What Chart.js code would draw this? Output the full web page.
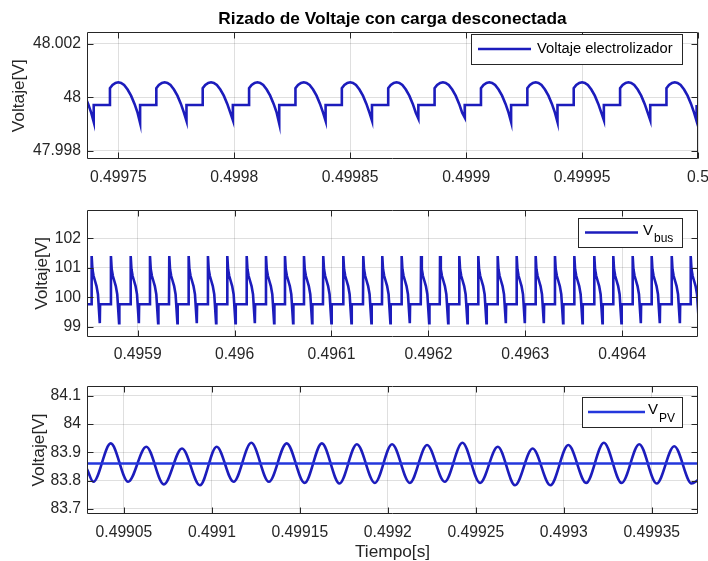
<!DOCTYPE html>
<html>
<head>
<meta charset="utf-8">
<title>Rizado de Voltaje con carga desconectada</title>
<script src="https://cdn.jsdelivr.net/npm/chart.js@4.4.1/dist/chart.umd.min.js"></script>
<style>
  html, body { margin: 0; padding: 0; background: #ffffff; }
  #fig { position: relative; width: 708px; height: 561px; overflow: hidden; background: #ffffff; }
  #fig canvas { position: absolute; left: 0; }
</style>
</head>
<body>
<div id="fig">
  <canvas id="cElec" width="708" height="190" style="top:0px;width:708px;height:190px"></canvas>
  <canvas id="cBus"  width="708" height="180" style="top:190px;width:708px;height:180px"></canvas>
  <canvas id="cPv"   width="708" height="191" style="top:370px;width:708px;height:191px"></canvas>
</div>
<script>
// ---------- Voltaje electrolizador: times are µs after elecBase seconds ----------
const elecBase = 0.4997;
const elecRangeUs = [36.5, 300];
const elecXTicks = [0.49975, 0.4998, 0.49985, 0.4999, 0.49995, 0.5];
const elecXLabels = ['0.49975', '0.4998', '0.49985', '0.4999', '0.49995', '0.5'];
const elecYRange = [47.99767, 48.00244];
const elecYTicks = [47.998, 48, 48.002];
const elecYLabels = ['47.998', '48', '48.002'];
// crest time of every ripple period and the trough reached before the reset step
const elecCrestUs = [30, 50, 70, 90, 110, 130, 150, 170, 190, 210, 230, 250, 270, 290];
const elecTroughV = [47.99907, 47.99903, 47.99911, 47.99914, 47.99901, 47.99911, 47.99912,
                     47.9992, 47.99924, 47.99907, 47.99907, 47.99914, 47.99914, 47.9991];
// one ripple period: offset from its crest (µs) and voltage; null marks the trough
const elecCycleUs = [-3.6, -3.6, -2.5, -1.2, 0, 1.2, 2.5, 4, 5.5, 7, 8.3, 9.4, 9.4];
const elecCycleV  = [47.99971, 48.00034, 48.00046, 48.00054, 48.00056, 48.00054, 48.00046,
                     48.00029, 48.00006, 47.99975, 47.99942, null, 47.99971];

// ---------- V_bus: times are µs after busBase seconds ----------
const busBase = 0.4958;
const busRangeUs = [47.7, 678.2];
const busXTicks = [0.4959, 0.496, 0.4961, 0.4962, 0.4963, 0.4964];
const busXLabels = ['0.4959', '0.496', '0.4961', '0.4962', '0.4963', '0.4964'];
const busYRange = [98.66, 102.96];
const busYTicks = [99, 100, 101, 102];
const busYLabels = ['99', '100', '101', '102'];
const busStartV = 99.76;
const busCrestUs = [52.5, 72.4, 92.8, 112.7, 132.6, 152.6, 172.5, 192.5, 212.5, 232.4, 252.0,
                    271.6, 291.5, 312.2, 332.8, 352.4, 372.4, 392.4, 412.0, 431.9, 451.5, 471.5,
                    491.1, 510.7, 530.6, 550.6, 571.2, 590.8, 610.8, 630.4, 651.1, 670.7];
// one switching spike: offset from its crest (µs) and voltage
const busCycleUs = [-0.3, 0, 0.8, 2.0, 3.5, 5.0, 6.5, 8.4, 8.7];
const busCycleV  = [99.76, 101.4, 100.95, 100.72, 100.55, 100.38, 100.1, 99.12, 99.76];

// ---------- V_PV: times are µs after pvBase seconds ----------
const pvBase = 0.499;
const pvRangeUs = [29.0, 376.3];
const pvXTicks = [0.49905, 0.4991, 0.49915, 0.4992, 0.49925, 0.4993, 0.49935];
const pvXLabels = ['0.49905', '0.4991', '0.49915', '0.4992', '0.49925', '0.4993', '0.49935'];
const pvYRange = [83.682, 84.135];
const pvYTicks = [83.7, 83.8, 83.9, 84, 84.1];
const pvYLabels = ['83.7', '83.8', '83.9', '84', '84.1'];
// turning points of the PV ripple (plus both window edges)
const pvUs = [29.0, 32.6, 42.5, 52.4, 62.7, 72.7, 83.0, 93.2, 102.7, 112.3, 122.4, 132.4, 142.5,
              152.7, 162.5, 172.5, 182.4, 192.6, 202.4, 212.5, 222.3, 232.3, 242.4, 252.4, 262.5,
              272.3, 282.3, 292.4, 302.6, 312.7, 322.8, 332.9, 342.9, 352.8, 362.8, 372.7, 376.3];
const pvV = [83.841, 83.796, 83.932, 83.796, 83.920, 83.787, 83.914, 83.784, 83.920, 83.796,
             83.934, 83.796, 83.932, 83.792, 83.932, 83.790, 83.929, 83.792, 83.929, 83.792,
             83.926, 83.796, 83.934, 83.792, 83.920, 83.784, 83.914, 83.784, 83.926, 83.792,
             83.934, 83.792, 83.929, 83.790, 83.922, 83.790, 83.802];
const pvMeanV = 83.861;

// ---------- styling ----------
const FONT = '"Liberation Sans", Arial, Helvetica, sans-serif';
const AXIS_INK = '#262626';
const GRID_INK = 'rgba(38,38,38,0.15)';
const WAVE = '#1c1cbc';
const TICK_PX = 15.7;
const LABEL_PX = 17.3;

const sec = (base, us) => base + us / 1e6;

// build point tables for the library
function periodicPoints(base, crests, offs, vals, troughs, startPoint) {
  const pts = startPoint ? [startPoint] : [];
  crests.forEach((c, k) => {
    offs.forEach((o, j) => {
      const v = vals[j] === null ? troughs[k] : vals[j];
      pts.push({ x: sec(base, c + o), y: v });
    });
  });
  return pts;
}

const elecPoints = periodicPoints(elecBase, elecCrestUs, elecCycleUs, elecCycleV, elecTroughV);
const busPoints = periodicPoints(busBase, busCrestUs, busCycleUs, busCycleV, null,
                                 { x: sec(busBase, busRangeUs[0]), y: busStartV });
const pvPoints = pvUs.map((u, i) => ({ x: sec(pvBase, u), y: pvV[i] }));
const pvMeanPoints = [{ x: sec(pvBase, pvRangeUs[0]), y: pvMeanV },
                      { x: sec(pvBase, pvRangeUs[1]), y: pvMeanV }];

// axes frame with inward tick marks on all four sides
const axesFrame = {
  id: 'axesFrame',
  afterDatasetsDraw(chart) {
    const { ctx, chartArea: a, scales: { x, y } } = chart;
    const L = 6;
    const l = Math.round(a.left) + 0.5, r = Math.round(a.right) - 0.5;
    const t = Math.round(a.top) + 0.5, b = Math.round(a.bottom) - 0.5;
    ctx.save();
    ctx.strokeStyle = AXIS_INK;
    ctx.lineWidth = 1;
    ctx.beginPath();
    x.ticks.forEach(tk => {
      const p = Math.round(x.getPixelForValue(tk.value)) + 0.5;
      ctx.moveTo(p, b); ctx.lineTo(p, b - L);
      ctx.moveTo(p, t); ctx.lineTo(p, t + L);
    });
    y.ticks.forEach(tk => {
      const p = Math.round(y.getPixelForValue(tk.value)) + 0.5;
      ctx.moveTo(l, p); ctx.lineTo(l + L, p);
      ctx.moveTo(r, p); ctx.lineTo(r - L, p);
    });
    ctx.rect(l, t, r - l, b - t);
    ctx.stroke();
    ctx.restore();
  }
};

// boxed legend in the upper right corner of the axes (canvas coordinates)
function boxedLegend(cfg) {
  return {
    id: 'boxedLegend',
    afterDraw(chart) {
      const ctx = chart.ctx;
      const ds = chart.data.datasets[cfg.dataset || 0];
      const [bx, by, bw, bh] = cfg.box;
      ctx.save();
      ctx.fillStyle = '#ffffff';
      ctx.fillRect(bx, by, bw, bh);
      ctx.strokeStyle = AXIS_INK;
      ctx.lineWidth = 1;
      ctx.strokeRect(bx + 0.5, by + 0.5, bw, bh);
      ctx.strokeStyle = ds.borderColor;
      ctx.lineWidth = ds.borderWidth;
      ctx.beginPath();
      ctx.moveTo(cfg.line[0], cfg.line[2]);
      ctx.lineTo(cfg.line[1], cfg.line[2]);
      ctx.stroke();
      ctx.fillStyle = '#000000';
      ctx.textAlign = 'left';
      ctx.textBaseline = 'middle';
      ctx.font = cfg.size + 'px ' + FONT;
      ctx.fillText(cfg.text, cfg.textX, cfg.textY);
      if (cfg.sub) {
        const w = ctx.measureText(cfg.text).width;
        ctx.font = cfg.subSize + 'px ' + FONT;
        ctx.fillText(cfg.sub, cfg.textX + w + 1, cfg.textY + cfg.subDy);
      }
      ctx.restore();
    }
  };
}

function axisScale(kind, range, tickVals, labels, extra) {
  const s = {
    type: 'linear',
    min: range[0],
    max: range[1],
    grid: { color: GRID_INK, lineWidth: 1, drawTicks: false },
    border: { display: false },
    ticks: {
      autoSkip: false, maxRotation: 0, minRotation: 0,
      color: AXIS_INK, font: { family: FONT, size: TICK_PX },
      padding: kind === 'x' ? 9 : 6,
      callback: (v, i) => labels[i]
    },
    afterBuildTicks: sc => { sc.ticks = tickVals.map(v => ({ value: v })); },
    afterFit: sc => {
      sc.paddingLeft = 0; sc.paddingRight = 0; sc.paddingTop = 0; sc.paddingBottom = 0;
      if (kind === 'x') sc.height = extra.height; else sc.width = extra.width;
    }
  };
  if (extra.title) {
    s.title = {
      display: true, text: extra.title, color: AXIS_INK,
      font: { family: FONT, size: LABEL_PX },
      padding: extra.titlePad
    };
  }
  return s;
}

function waveChart(id, datasets, opt) {
  return new Chart(document.getElementById(id), {
    type: 'line',
    data: { datasets },
    options: {
      responsive: false,
      animation: false,
      devicePixelRatio: 1,
      events: [],
      parsing: false,
      normalized: true,
      layout: { padding: { left: 0, right: 10, top: opt.top, bottom: 0 } },
      plugins: {
        legend: { display: false },
        tooltip: { enabled: false },
        title: opt.title ? {
          display: true, text: opt.title, color: '#000000', fullSize: false,
          font: { family: FONT, size: LABEL_PX, weight: 'bold' },
          padding: { top: 9, bottom: 2.5 }
        } : { display: false }
      },
      scales: { x: opt.x, y: opt.y }
    },
    plugins: [axesFrame, boxedLegend(opt.legend)]
  });
}

const lineStyle = { borderColor: WAVE, borderWidth: 2.6, pointRadius: 0, fill: false };

waveChart('cElec', [
  Object.assign({ label: 'Voltaje electrolizador', data: elecPoints, tension: 0 }, lineStyle)
], {
  top: 0,
  title: 'Rizado de Voltaje con carga desconectada',
  x: axisScale('x', [sec(elecBase, elecRangeUs[0]), sec(elecBase, elecRangeUs[1])], elecXTicks, elecXLabels, { height: 190 - 159.3 }),
  y: axisScale('y', elecYRange, elecYTicks, elecYLabels, { width: 87, title: 'Voltaje[V]', titlePad: { top: 8.8, bottom: 0 } }),
  legend: { box: [471, 34, 211, 30], line: [478, 531, 49], text: 'Voltaje electrolizador', textX: 537, textY: 49, size: 14.7 }
});

waveChart('cBus', [
  Object.assign({ label: 'V_bus', data: busPoints, tension: 0 }, lineStyle)
], {
  top: 20,
  x: axisScale('x', [sec(busBase, busRangeUs[0]), sec(busBase, busRangeUs[1])], busXTicks, busXLabels, { height: 180 - 146.7 }),
  y: axisScale('y', busYRange, busYTicks, busYLabels, { width: 87, title: 'Voltaje[V]', titlePad: { top: 32.1, bottom: 0 } }),
  legend: { box: [578, 28, 104, 29], line: [585, 638, 42.5], text: 'V', textX: 643, textY: 41, size: 15, sub: 'bus', subSize: 12, subDy: 8 }
});

waveChart('cPv', [
  Object.assign({ label: 'V_PV media', data: pvMeanPoints, tension: 0 }, lineStyle, { borderColor: '#2437dc', borderWidth: 2.5 }),
  Object.assign({ label: 'V_PV', data: pvPoints, cubicInterpolationMode: 'monotone' }, lineStyle)
], {
  top: 16,
  x: axisScale('x', [sec(pvBase, pvRangeUs[0]), sec(pvBase, pvRangeUs[1])], pvXTicks, pvXLabels, { height: 191 - 144, title: 'Tiempo[s]', titlePad: { top: 0, bottom: -2 } }),
  y: axisScale('y', pvYRange, pvYTicks, pvYLabels, { width: 87, title: 'Voltaje[V]', titlePad: { top: 28.6, bottom: 0 } }),
  legend: { box: [582, 27, 100, 30], line: [588, 645, 42], text: 'V', textX: 648, textY: 40, size: 15, sub: 'PV', subSize: 12, subDy: 9 }
});
</script>
</body>
</html>
